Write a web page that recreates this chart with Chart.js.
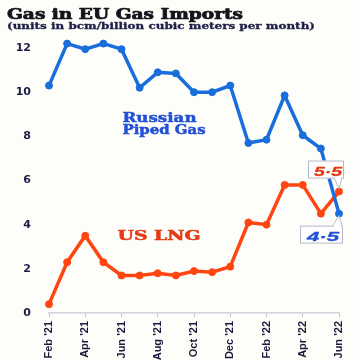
<!DOCTYPE html>
<html>
<head>
<meta charset="utf-8">
<script src="https://cdn.jsdelivr.net/npm/chart.js@4.4.1/dist/chart.umd.min.js"></script>
<style>
  html, body { margin: 0; padding: 0; background: #fdfdf9; }
  #wrap { width: 360px; height: 360px; position: relative; }
</style>
</head>
<body>
<div id="wrap"><canvas id="gasChart"></canvas></div>
<script>
// datos (bcm por mes)
const months = ["Feb '21", "Mar '21", "Apr '21", "May '21", "Jun '21", "Jul '21", "Aug '21", "Sep '21",
                "Oct '21", "Nov '21", "Dec '21", "Jan '22", "Feb '22", "Mar '22", "Apr '22", "May '22", "Jun '22"];
const russianPiped = [10.3, 12.2, 11.95, 12.2, 11.95, 10.2, 10.9, 10.85, 10.0, 10.0, 10.3, 7.7, 7.85, 9.85, 8.05, 7.45, 4.5];
const usLng = [0.4, 2.3, 3.5, 2.3, 1.7, 1.7, 1.8, 1.7, 1.9, 1.85, 2.1, 4.1, 4.0, 5.8, 5.8, 4.5, 5.5];
const yTicks = [0, 2, 4, 6, 8, 10, 12];

const COLORS = {
    RUSSIA: '#1a6edc',
    RUSSIA_TEXT: '#2450d6',
    LNG: '#ff4612',
    LNG_TEXT: '#e63a16',
    TITLE: '#14141c',
    SUB: '#1e1e46',
    AXIS: '#d2d2da',
    BOX: '#b9b9c6'
};

// texto estirado a un ancho fijo (la imagen original es mas ancha), con trazo para engrosar
function fillStretched(ctx, text, x, y, width, stroke) {
    const w = ctx.measureText(text).width;
    ctx.save();
    ctx.translate(x, y);
    ctx.scale(width / w, 1);
    ctx.fillText(text, 0, 0);
    if (stroke) {
        ctx.strokeStyle = ctx.fillStyle;
        ctx.lineWidth = stroke;
        ctx.lineJoin = 'round';
        ctx.strokeText(text, 0, 0);
    }
    ctx.restore();
}

function fmt(v) {
    return v.toFixed(1).replace('.', '\u00b7');
}

const annotations = {
    id: 'annotations',
    afterDatasetsDraw(chart) {
        const ctx = chart.ctx;
        const xs = chart.scales.x;
        const ys = chart.scales.y;
        ctx.save();
        ctx.textBaseline = 'alphabetic';
        ctx.textAlign = 'left';

        // titulos
        ctx.fillStyle = COLORS.TITLE;
        ctx.font = 'bold 14px "DejaVu Serif"';
        fillStretched(ctx, 'Gas in EU Gas Imports', 7, 19, 236, 0.7);
        ctx.fillStyle = COLORS.SUB;
        ctx.font = 'bold 9px "DejaVu Serif"';
        fillStretched(ctx, '(units in bcm/billion cubic meters per month)', 7, 29, 308, 0.3);

        // nombres de las series
        ctx.font = 'bold 13px "DejaVu Serif"';
        ctx.fillStyle = COLORS.RUSSIA_TEXT;
        fillStretched(ctx, 'Russian', xs.getPixelForValue(4) + 1, 122, 74, 0.5);
        fillStretched(ctx, 'Piped Gas', xs.getPixelForValue(4) + 1, 134, 83, 0.5);
        ctx.font = 'bold 12px "DejaVu Serif"';
        ctx.fillStyle = COLORS.LNG_TEXT;
        fillStretched(ctx, 'US LNG', xs.getPixelForValue(4) - 4, 240, 83, 0.5);

        // etiquetas del ultimo valor
        const last = months.length - 1;
        const px = xs.getPixelForValue(last);
        const pyL = ys.getPixelForValue(usLng[last]);
        const pyR = ys.getPixelForValue(russianPiped[last]);

        function callout(left, top, w, h, baseA, baseB, tipX, tipY, baseY, text, color, tx, ty, tw) {
            ctx.fillStyle = '#ffffff';
            ctx.strokeStyle = COLORS.BOX;
            ctx.lineWidth = 1;
            ctx.fillRect(left, top, w, h);
            ctx.strokeRect(left + 0.5, top + 0.5, w - 1, h - 1);
            ctx.beginPath();
            ctx.moveTo(baseA, baseY);
            ctx.lineTo(tipX, tipY);
            ctx.lineTo(baseB, baseY);
            ctx.closePath();
            ctx.fill();
            ctx.beginPath();
            ctx.moveTo(baseA, baseY);
            ctx.lineTo(tipX, tipY);
            ctx.lineTo(baseB, baseY);
            ctx.stroke();
            ctx.fillStyle = '#ffffff';
            ctx.fillRect(baseA + 1, baseY - 1.5, baseB - baseA - 2, 3);
            ctx.fillStyle = color;
            ctx.font = 'italic bold 12px "Liberation Sans"';
            fillStretched(ctx, text, tx, ty, tw, 0.3);
        }

        callout(px - 31, pyL - 31, 36, 18, px - 5, px + 3, px, pyL - 3, pyL - 14,
                fmt(usLng[last]), COLORS.LNG_TEXT, px - 25, pyL - 16, 28);
        callout(px - 39, pyR + 12, 43, 18, px - 6, px + 3, px, pyR + 2, pyR + 12,
                fmt(russianPiped[last]), COLORS.RUSSIA_TEXT, px - 32, pyR + 27, 32);

        ctx.restore();
    }
};

new Chart(document.getElementById('gasChart').getContext('2d'), {
    type: 'line',
    data: {
        labels: months,
        datasets: [
            {
                label: 'Russian Piped Gas',
                data: russianPiped,
                borderColor: COLORS.RUSSIA,
                backgroundColor: COLORS.RUSSIA,
                borderWidth: 3.5,
                pointRadius: 3.5,
                pointBorderWidth: 1,
                pointBackgroundColor: COLORS.RUSSIA,
                pointBorderColor: COLORS.RUSSIA,
                tension: 0,
                clip: false
            },
            {
                label: 'US LNG',
                data: usLng,
                borderColor: COLORS.LNG,
                backgroundColor: COLORS.LNG,
                borderWidth: 3.5,
                pointRadius: 3.5,
                pointBorderWidth: 1,
                pointBackgroundColor: COLORS.LNG,
                pointBorderColor: COLORS.LNG,
                tension: 0,
                clip: false
            }
        ]
    },
    options: {
        responsive: true,
        maintainAspectRatio: false,
        animation: false,
        layout: { padding: { top: 37, right: 21, left: 0, bottom: 0 } },
        plugins: {
            legend: { display: false },
            tooltip: { enabled: false },
            title: { display: false }
        },
        scales: {
            x: {
                offset: false,
                afterFit: (scale) => { scale.height = 47; },
                grid: {
                    display: true,
                    drawOnChartArea: false,
                    drawTicks: true,
                    tickLength: 4,
                    color: (c) => (c.index % 2 === 0 ? '#c4c4cc' : 'rgba(0,0,0,0)')
                },
                border: { display: true, color: COLORS.AXIS, width: 1.5 },
                ticks: {
                    autoSkip: false,
                    minRotation: 90,
                    maxRotation: 90,
                    padding: 4,
                    color: '#1a1a3c',
                    font: { family: '"Liberation Sans"', size: 11, weight: 'bold' },
                    callback: (v, i) => (i % 2 === 0 ? months[i] : '')
                }
            },
            y: {
                min: 0,
                max: 12.5,
                afterFit: (scale) => { scale.width = 49; },
                afterBuildTicks: (scale) => { scale.ticks = yTicks.map(v => ({ value: v })); },
                grid: { display: false, drawTicks: false },
                border: { display: false },
                ticks: {
                    padding: 18,
                    color: '#1d1d4a',
                    font: { family: '"DejaVu Sans"', size: 11, weight: 'bold' }
                }
            }
        }
    },
    plugins: [annotations]
});
</script>
</body>
</html>
